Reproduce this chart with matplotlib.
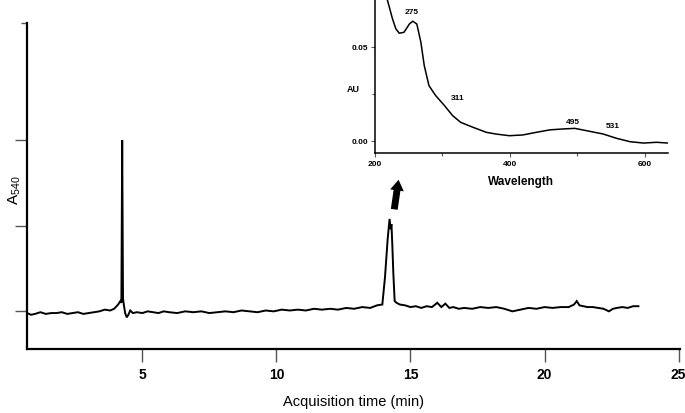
import matplotlib
matplotlib.use("Agg")
from matplotlib import pyplot as plt
from matplotlib.patches import FancyArrowPatch

plt.rcParams["font.family"] = ["Liberation Sans", "DejaVu Sans"]

# chromatogram (A540 vs acquisition time)
time_min = [0.70, 0.85, 1.0, 1.2, 1.4, 1.6, 1.8, 2.0, 2.2, 2.4, 2.6, 2.8, 3.0, 3.2, 3.4,
            3.6, 3.8, 3.95, 4.1, 4.18, 4.22, 4.25, 4.28, 4.31, 4.36, 4.42, 4.48, 4.55,
            4.65, 4.8, 5.0, 5.2, 5.4, 5.6, 5.8, 6.0, 6.3, 6.6, 6.9, 7.2, 7.5, 7.8, 8.1,
            8.4, 8.7, 9.0, 9.3, 9.6, 9.9, 10.2, 10.5, 10.8, 11.1, 11.4, 11.7, 12.0, 12.3,
            12.6, 12.9, 13.2, 13.5, 13.75, 13.95, 14.05, 14.15, 14.22, 14.26, 14.29,
            14.32, 14.36, 14.41, 14.48, 14.6, 14.8, 15.0, 15.2, 15.4, 15.6, 15.8, 16.0,
            16.15, 16.3, 16.45, 16.6, 16.8, 17.0, 17.3, 17.6, 17.9, 18.2, 18.5, 18.8,
            19.1, 19.4, 19.7, 20.0, 20.3, 20.6, 20.9, 21.1, 21.2, 21.3, 21.45, 21.6,
            21.8, 22.0, 22.2, 22.4, 22.55, 22.7, 22.9, 23.1, 23.3, 23.5]
a540 = [-0.02, -0.04, -0.03, -0.01, -0.03, -0.02, -0.02, -0.01, -0.03, -0.02, -0.01,
        -0.03, -0.02, -0.01, 0.0, 0.02, 0.01, 0.03, 0.08, 0.12, 0.10, 2.0, 0.15, 0.08,
        -0.02, -0.07, -0.04, 0.01, -0.02, -0.01, -0.02, 0.0, -0.01, -0.02, 0.0, -0.01,
        -0.02, 0.0, -0.01, 0.0, -0.02, -0.01, 0.0, -0.01, 0.01, 0.0, -0.01, 0.01, 0.0,
        0.02, 0.01, 0.02, 0.01, 0.03, 0.02, 0.03, 0.02, 0.04, 0.03, 0.05, 0.04, 0.07,
        0.08, 0.40, 0.85, 1.08, 0.96, 1.02, 0.80, 0.45, 0.12, 0.10, 0.08, 0.07, 0.05,
        0.06, 0.04, 0.06, 0.05, 0.10, 0.05, 0.09, 0.04, 0.05, 0.03, 0.04, 0.03, 0.05,
        0.04, 0.05, 0.03, 0.0, 0.02, 0.04, 0.03, 0.05, 0.04, 0.05, 0.05, 0.08, 0.12,
        0.07, 0.06, 0.05, 0.05, 0.04, 0.03, 0.0, 0.03, 0.04, 0.05, 0.04, 0.06, 0.06]

# UV-vis spectrum of the 14.3 min peak (inset)
wavelength = [218, 226, 231, 236, 243, 251, 256, 262, 268, 273, 280, 290, 303, 315,
              327, 345, 365, 379, 399, 419, 439, 459, 479, 496, 513, 538, 558, 578,
              598, 617, 634]
au = [0.0755, 0.0649, 0.0596, 0.0573, 0.0578, 0.0622, 0.0637, 0.0622, 0.0525, 0.0401,
      0.0294, 0.0241, 0.0188, 0.0135, 0.0099, 0.0073, 0.0046, 0.0037, 0.0028, 0.0032,
      0.0046, 0.0059, 0.0064, 0.0067, 0.0055, 0.0037, 0.0014, -0.0004, -0.0011,
      -0.0007, -0.0011]
peak_labels = ["275", "311", "495", "531"]
peak_label_x = [255, 323, 493, 552]
peak_label_y = [0.0686, 0.0229, 0.0101, 0.0080]

fig = plt.figure(figsize=(6.85, 4.14), dpi=100)

# main chromatogram
ax = fig.add_axes([0.0394, 0.1546, 0.9533, 0.7874])
ax.plot(time_min, a540, color="black", lw=1.4, solid_joinstyle="miter")
ax.set_xlim(0.70, 25.05)
ax.set_ylim(-0.44, 3.37)
ax.spines[["top", "right"]].set_visible(False)
for s in ["left", "bottom"]:
    ax.spines[s].set_linewidth(1.6)
ax.set_xticks([5, 10, 15, 20, 25])
ax.set_yticks([0, 1, 2])
ax.set_yticks([3.37], minor=True)
ax.set_yticklabels([])
ax.tick_params(axis="x", length=9, width=1.0, color="#555555", pad=4,
               labelsize=10)
ax.tick_params(axis="y", length=9, width=1.0, color="#555555")
ax.tick_params(axis="y", which="minor", length=4, width=1.0, color="#555555")
for lab in ax.get_xticklabels():
    lab.set_fontweight("bold")
ax.set_xlabel("Acquisition time (min)", fontsize=10.5, labelpad=9)
fig.text(15 / 685, 1 - 190 / 414, r"A$_{\mathregular{540}}$", fontsize=11,
         rotation=90, ha="center", va="center")

# arrow pointing to the inset
arrow = FancyArrowPatch((14.38, 1.16), (14.57, 1.57),
                        arrowstyle="simple,head_length=0.7,head_width=0.9,tail_width=0.45",
                        mutation_scale=11, color="black", lw=0)
ax.add_patch(arrow)

# inset spectrum
ins = fig.add_axes([0.5474, 0.628, 0.4277, 0.372])
ins.patch.set_alpha(0)
ins.plot(wavelength, au, color="black", lw=1.1)
ins.set_xlim(200, 634)
ins.set_ylim(-0.0064, 0.0755)
ins.spines[["top", "right"]].set_visible(False)
for s in ["left", "bottom"]:
    ins.spines[s].set_linewidth(1.1)
ins.set_xticks([200, 400, 600])
ins.set_xticks([300, 500], minor=True)
ins.set_yticks([0.0, 0.05])
ins.set_yticks([0.025], minor=True)
ins.set_yticklabels(["0.00", "0.05"])
ins.tick_params(length=3, width=0.8, color="#555555", labelsize=6, pad=2)
ins.tick_params(which="minor", length=2, width=0.8, color="#555555")
for lab in ins.get_xticklabels() + ins.get_yticklabels():
    lab.set_fontweight("bold")
ins.set_xlabel("Wavelength", fontsize=8.5, fontweight="bold", labelpad=6)
fig.text(353 / 685, 1 - 90 / 414, "AU", fontsize=6.5, fontweight="bold",
         ha="center", va="center")
for lab, x, y in zip(peak_labels, peak_label_x, peak_label_y):
    ins.text(x, y, lab, fontsize=6, fontweight="bold", ha="center", va="center")

fig.savefig("out.png", dpi=100)
